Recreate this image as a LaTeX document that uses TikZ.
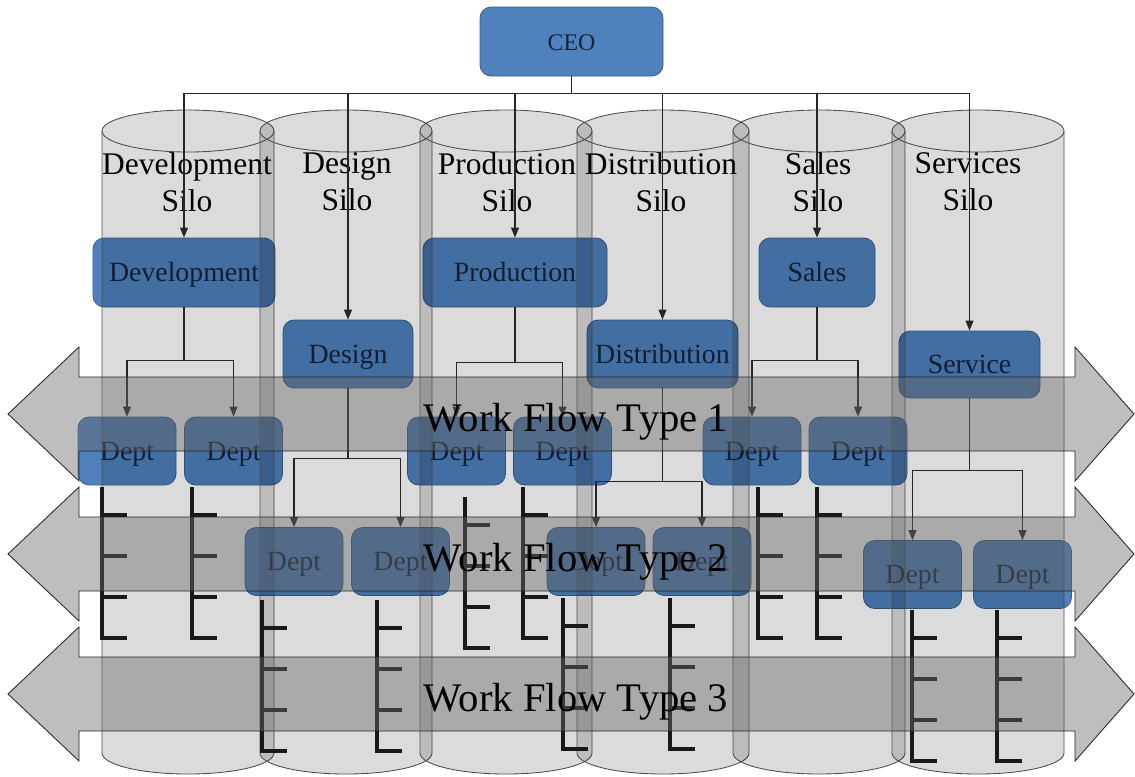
\documentclass[tikz,border=0pt]{standalone}
\usepackage{fontspec}
\setmainfont{Liberation Serif}
\usetikzlibrary{arrows.meta}
\definecolor{boxblue}{HTML}{4F81BD}
\definecolor{boxline}{HTML}{385D8A}
\definecolor{boxtext}{HTML}{14243C}
\definecolor{flowgray}{HTML}{686868}
\tikzset{
  box/.style={draw=boxline, fill=boxblue, text=boxtext, rounded corners=2.8mm, line width=0.6pt, inner sep=0pt, text height=16pt, text depth=3pt, font=\fontsize{19.8}{23}\selectfont},
  boxsize/.style 2 args={minimum width=#1*0.25mm, minimum height=#2*0.25mm},
  silo/.style={draw=black!70, line width=0.6pt, fill=black, fill opacity=0.14},
  rim/.style={draw=black!70, line width=0.6pt},
  link/.style={draw=black!85, line width=0.8pt},
  tree/.style={draw=black!90, line width=1mm},
  flow/.style={draw=black!85, line width=0.6pt, fill=flowgray, fill opacity=0.43},
  silolabel/.style={align=center, inner sep=0pt, font=\fontsize{22.4}{26.3}\selectfont},
  flowlabel/.style={anchor=base, inner sep=0pt, font=\fontsize{28.9}{34}\selectfont}
}

\begin{document}
\begin{tikzpicture}[x=0.25mm, y=-0.25mm, >={Triangle[length=2.5mm,width=2mm]}]
  \useasboundingbox (0,0) rectangle (1135,776);
  \node [box, boxsize={183}{69}, font=\fontsize{17}{20}\selectfont] (ceo) at (571.5,41.5) {CEO};
  \node [box, boxsize={182}{69}] (dev) at (184,272.5) {Development};
  \node [box, boxsize={130}{68}] (des) at (348,354) {Design};
  \node [box, boxsize={184}{69}] (prod) at (515,272.5) {Production};
  \node [box, boxsize={151}{68}] (dist) at (662.5,354) {Distribution};
  \node [box, boxsize={116}{69}] (sales) at (817,272.5) {Sales};
  \node [box, boxsize={141}{67}] (serv) at (969.5,364.5) {Service};
  \foreach \n/\x/\y in {dev1/127/451, dev2/233.5/451, des1/294/561.5, des2/400.5/561.5, prod1/456.5/451, prod2/562.5/451, dist1/596/561.5, dist2/702/561.5, sales1/752/451, sales2/858/451, serv1/912.5/574.5, serv2/1022.5/574.5}
    \node [box, boxsize={98}{68}] (\n) at (\x,\y) {Dept};

  \foreach \x in {102,260,420,577,733,892} {
    \path [silo] (\x,131) -- (\x,753) arc [start angle=180, end angle=360, x radius=21.5mm, y radius=5.25mm] --++ (0,-622) arc [start angle=0, end angle=180, x radius=21.5mm, y radius=5.25mm] -- cycle;
    \draw [rim] (\x,131) arc [start angle=180, end angle=360, x radius=21.5mm, y radius=5.25mm];
  }
  \foreach \n/\x/\lab in {dev/187/Development, des/347/Design, prod/507/Production, dist/661/Distribution, sales/818/Sales, serv/968/Services}
    \node [silolabel] (lbl\n) at (\x,182) {\lab\\Silo};

  \foreach \s in {dev,des,prod,dist,sales,serv}
    \draw [link,->] (ceo.south) --++ (0,17) -| (\s.north);
  \foreach \s/\drop in {dev/53, des/70, prod/55, dist/93, sales/53, serv/72} {
    \draw [link,->] (\s.south) --++ (0,\drop) -| (\s1.north);
    \draw [link,->] (\s.south) --++ (0,\drop) -| (\s2.north);
  }

  \foreach \x/\y in {102/487, 192/487, 465/497, 523/487, 758/487, 817/487, 262/600, 377/600, 563/598, 670/598, 912/610, 997/610} {
    \draw [tree] (\x,\y) --++ (0,151) --++ (25,0);
    \foreach \k in {28,69,110}
      \draw [tree] (\x,\y+\k) --++ (25,0);
  }

  \foreach \y/\lab in {414/1, 554/2, 694/3} {
    \draw [flow] (8,\y) --++ (71,-67) --++ (0,30) -- (1075,\y-37) --++ (0,-30) -- (1134,\y) -- (1075,\y+67) --++ (0,-30) -- (79,\y+37) --++ (0,30) -- cycle;
    \node [flowlabel] (flow\lab) at (576,\y+17) {Work Flow Type \lab};
  }
\end{tikzpicture}
\end{document}
